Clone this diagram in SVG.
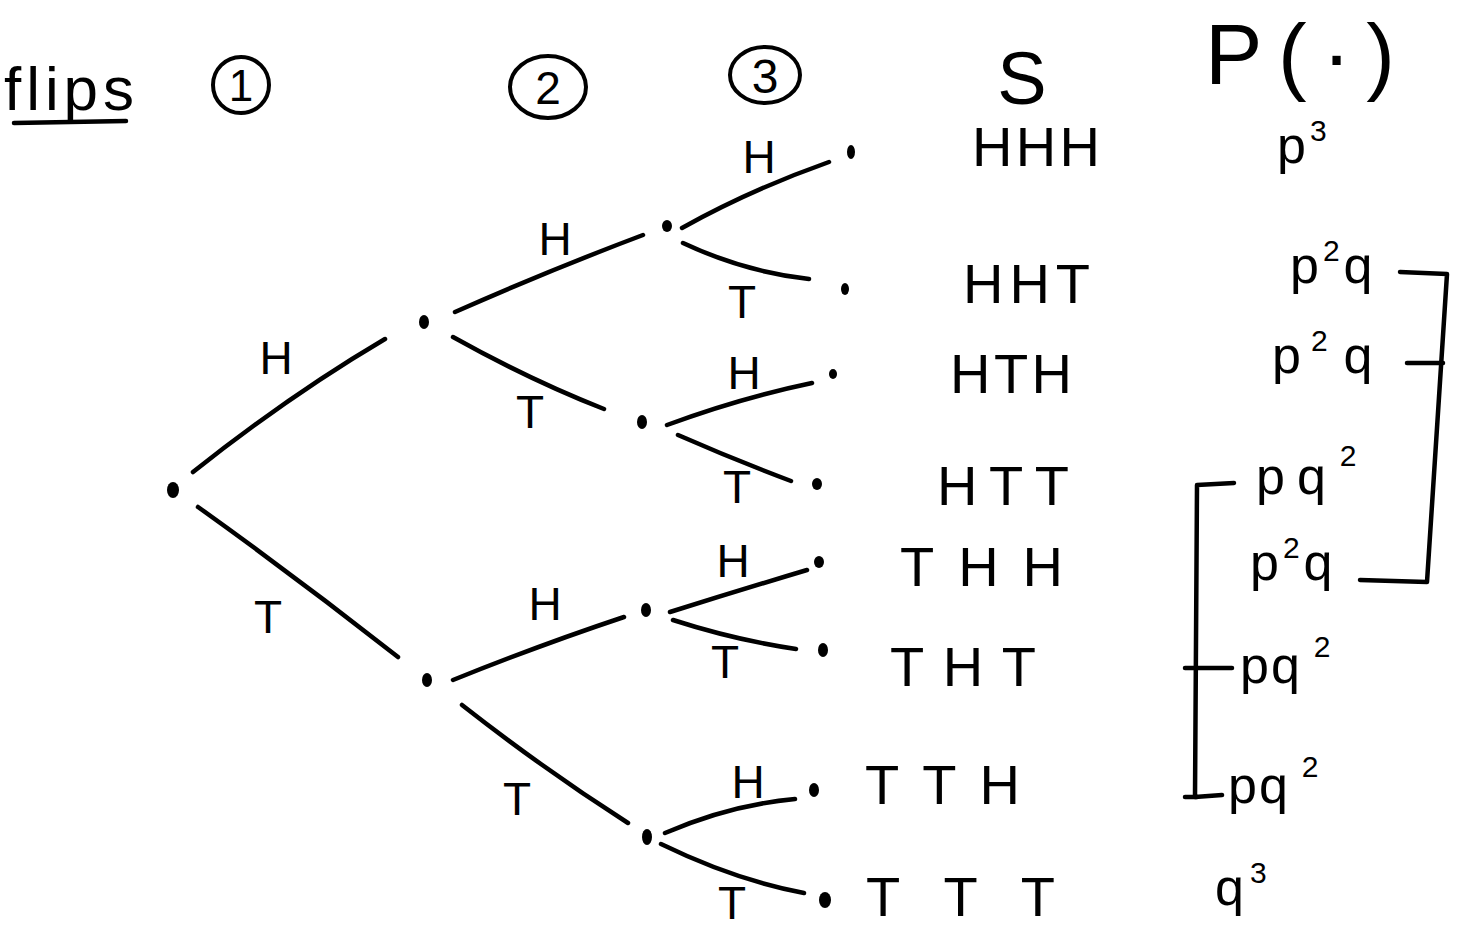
<svg xmlns="http://www.w3.org/2000/svg" width="1461" height="941" viewBox="0 0 1461 941">
<style>
.t{font-family:"Liberation Sans",Arial,sans-serif;fill:#000}
.lbl{font-size:46px;text-anchor:middle}
.out{font-size:56px}
.pr{font-size:52px}
.sup{font-size:30px}
.e{fill:none;stroke:#000;stroke-width:4.5;stroke-linecap:round}
.br{fill:none;stroke:#000;stroke-width:4.5;stroke-linecap:round;stroke-linejoin:round}
.dot{fill:#000}
.ring{fill:none;stroke:#000;stroke-width:4}
</style>
<rect width="1461" height="941" fill="#fff"/>

<g id="header">
  <text class="t" x="4" y="110" font-size="62" textLength="130" lengthAdjust="spacing">flips</text>
  <line class="e" x1="14" y1="123" x2="126" y2="121"/>
  <g id="h1"><ellipse class="ring" cx="241" cy="85" rx="28" ry="28"/><text class="t" x="241" y="101" font-size="44" text-anchor="middle">1</text></g>
  <g id="h2"><ellipse class="ring" cx="548" cy="87" rx="38" ry="31"/><text class="t" x="548" y="104" font-size="46" text-anchor="middle">2</text></g>
  <g id="h3"><ellipse class="ring" cx="765" cy="75" rx="35" ry="28"/><text class="t" x="765" y="93" font-size="48" text-anchor="middle">3</text></g>
  <text class="t" x="1022" y="104" font-size="74" text-anchor="middle">S</text>
  <text class="t" x="1205" y="84" font-size="86" textLength="190" lengthAdjust="spacing">P(·)</text>
</g>

<g id="connectors">
  <path class="e" d="M193,472 Q290,395 385,339"/>
  <path class="e" d="M198,507 Q300,580 398,657"/>
  <path class="e" d="M455,312 Q550,270 643,235"/>
  <path class="e" d="M453,337 Q530,380 604,409"/>
  <path class="e" d="M453,680 Q540,645 624,617"/>
  <path class="e" d="M462,705 Q545,770 628,823"/>
  <path class="e" d="M682,228 Q750,190 829,162"/>
  <path class="e" d="M683,243 Q745,272 809,279"/>
  <path class="e" d="M667,425 Q740,398 812,383"/>
  <path class="e" d="M678,435 Q735,460 791,481"/>
  <path class="e" d="M670,612 Q740,590 807,570"/>
  <path class="e" d="M673,620 Q735,640 796,649"/>
  <path class="e" d="M665,833 Q730,805 795,799"/>
  <path class="e" d="M661,844 Q735,880 804,893"/>
</g>

<g id="edge-labels">
  <text class="t lbl" x="276" y="374">H</text>
  <text class="t lbl" x="268" y="633">T</text>
  <text class="t lbl" x="555" y="255">H</text>
  <text class="t lbl" x="530" y="428">T</text>
  <text class="t lbl" x="545" y="620">H</text>
  <text class="t lbl" x="517" y="815">T</text>
  <text class="t lbl" x="759" y="173">H</text>
  <text class="t lbl" x="742" y="318">T</text>
  <text class="t lbl" x="744" y="389">H</text>
  <text class="t lbl" x="737" y="503">T</text>
  <text class="t lbl" x="733" y="577">H</text>
  <text class="t lbl" x="725" y="678">T</text>
  <text class="t lbl" x="748" y="798">H</text>
  <text class="t lbl" x="732" y="919">T</text>
</g>

<g id="n-root"><ellipse class="dot" cx="173" cy="490" rx="6" ry="8"/></g>
<g id="n-H"><ellipse class="dot" cx="424" cy="322" rx="5" ry="7"/></g>
<g id="n-T"><ellipse class="dot" cx="427" cy="680" rx="5" ry="7"/></g>
<g id="n-HH"><ellipse class="dot" cx="667" cy="226" rx="5" ry="6"/></g>
<g id="n-HT"><ellipse class="dot" cx="642" cy="422" rx="5" ry="7"/></g>
<g id="n-TH"><ellipse class="dot" cx="646" cy="610" rx="5" ry="7"/></g>
<g id="n-TT"><ellipse class="dot" cx="647" cy="837" rx="5" ry="8"/></g>

<g id="leaf-HHH"><ellipse class="dot" cx="851" cy="152" rx="4" ry="7"/><text class="t out" x="972" y="166" textLength="128" lengthAdjust="spacing">HHH</text></g>
<g id="leaf-HHT"><ellipse class="dot" cx="845" cy="289" rx="4" ry="6"/><text class="t out" x="963" y="303" textLength="127" lengthAdjust="spacing">HHT</text></g>
<g id="leaf-HTH"><ellipse class="dot" cx="833" cy="374" rx="4" ry="5"/><text class="t out" x="950" y="393" textLength="122" lengthAdjust="spacing">HTH</text></g>
<g id="leaf-HTT"><ellipse class="dot" cx="817" cy="484" rx="5" ry="6"/><text class="t out" x="937" y="505" textLength="132" lengthAdjust="spacing">HTT</text></g>
<g id="leaf-THH"><ellipse class="dot" cx="819" cy="562" rx="5" ry="6"/><text class="t out" x="900" y="586" textLength="163" lengthAdjust="spacing">THH</text></g>
<g id="leaf-THT"><ellipse class="dot" cx="823" cy="650" rx="5" ry="7"/><text class="t out" x="890" y="686" textLength="146" lengthAdjust="spacing">THT</text></g>
<g id="leaf-TTH"><ellipse class="dot" cx="814" cy="790" rx="5" ry="7"/><text class="t out" x="865" y="804" textLength="155" lengthAdjust="spacing">TTH</text></g>
<g id="leaf-TTT"><ellipse class="dot" cx="825" cy="900" rx="6" ry="8"/><text class="t out" x="866" y="916" textLength="189" lengthAdjust="spacing">TTT</text></g>

<g id="probabilities">
  <text class="t pr" x="1277" y="163">p<tspan class="sup" dy="-22" dx="4">3</tspan></text>
  <text class="t pr" x="1290" y="283">p<tspan class="sup" dy="-22" dx="4">2</tspan><tspan dy="22" dx="4">q</tspan></text>
  <text class="t pr" x="1272" y="373">p<tspan class="sup" dy="-22" dx="10">2</tspan><tspan dy="22" dx="16">q</tspan></text>
  <text class="t pr" x="1256" y="494">p<tspan dx="12">q</tspan><tspan class="sup" dy="-28" dx="14">2</tspan></text>
  <text class="t pr" x="1250" y="580">p<tspan class="sup" dy="-22" dx="4">2</tspan><tspan dy="22" dx="4">q</tspan></text>
  <text class="t pr" x="1240" y="683">p<tspan dx="2">q</tspan><tspan class="sup" dy="-26" dx="14">2</tspan></text>
  <text class="t pr" x="1228" y="803">p<tspan dx="2">q</tspan><tspan class="sup" dy="-26" dx="14">2</tspan></text>
  <text class="t pr" x="1215" y="905">q<tspan class="sup" dy="-22" dx="6">3</tspan></text>
</g>

<g id="brackets">
  <path class="br" d="M1400,272 L1447,274 L1427,582 L1360,580"/>
  <line class="br" x1="1407" y1="363" x2="1443" y2="363"/>
  <path class="br" d="M1234,483 L1197,485 L1195,797 L1222,795"/>
  <line class="br" x1="1185" y1="668" x2="1232" y2="668"/>
  <line class="br" x1="1185" y1="797" x2="1197" y2="797"/>
</g>
</svg>
